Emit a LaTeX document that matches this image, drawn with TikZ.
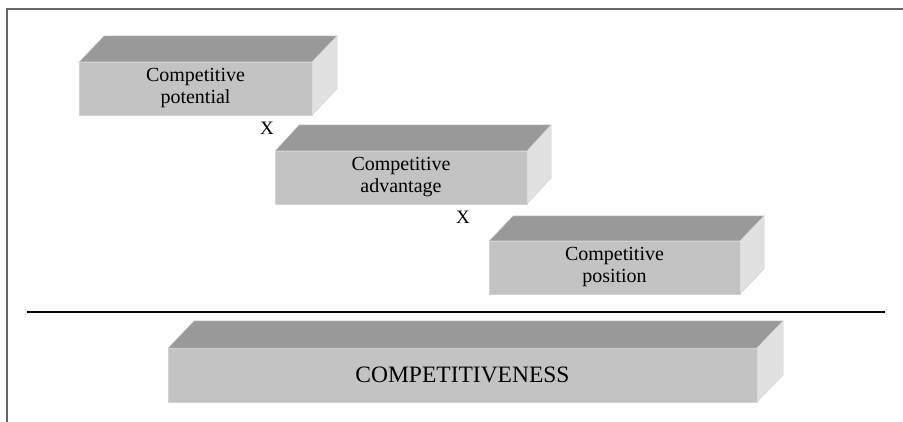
\documentclass[tikz,border=0pt]{standalone}
\usepackage{fontspec}
\setmainfont{Liberation Serif}
\definecolor{topgray}{HTML}{999999}
\definecolor{frontgray}{HTML}{C3C3C3}
\definecolor{sidegray}{HTML}{E1E1E1}
\definecolor{edgegray}{HTML}{D2D2D2}
\definecolor{framegray}{HTML}{666666}
\tikzset{
  frontface/.style={fill=frontgray, draw=edgegray, line width=0.8pt, inner sep=0pt, outer sep=0pt, align=center, minimum height=53pt},
  topface/.style={fill=topgray, draw=edgegray, line width=0.5pt},
  sideface/.style={fill=sidegray, draw=edgegray, line width=0.5pt},
  boxtext/.style={font=\fontsize{20}{22}\selectfont},
  bigtext/.style={font=\fontsize{23.5}{26}\selectfont},
  timeslabel/.style={fill=white, inner sep=1.5pt, font=\fontsize{19}{21}\selectfont},
  frameline/.style={draw=framegray, line width=1.6pt},
  sepline/.style={draw=black, line width=2pt}
}
% #1 name, #2 center, #3 width, #4 depth shift, #5 style, #6 text
\newcommand\slabbox[6]{%
  \node[frontface, #5, minimum width=#3] (#1) at (#2) {#6};
  \path[topface] (#1.north west) -- (#1.north east) -- ([shift={(#4)}]#1.north east) -- ([shift={(#4)}]#1.north west) -- cycle;
  \path[sideface] (#1.north east) -- ([shift={(#4)}]#1.north east) -- ([shift={(#4)}]#1.south east) -- (#1.south east) -- cycle;
}
\begin{document}
\begin{tikzpicture}[x=1pt, y=-1pt]
  \useasboundingbox (0,0) rectangle (903,422);
  \fill[white] (0,0) rectangle (903,422);
  % frame
  \coordinate (ftl) at (7,9);
  \coordinate (ftr) at (903,9);
  \coordinate (fbl) at (7,422);
  \draw[frameline] (ftr) -- (ftl) -- (fbl);
  % boxes
  \slabbox{pot}{195.5,88.5}{233pt}{25,-26}{boxtext}{Competitive\\potential}
  \slabbox{adv}{401,177.5}{252pt}{24,-26}{boxtext}{Competitive\\advantage}
  \slabbox{pos}{614.5,267.5}{251pt}{24,-25}{boxtext}{Competitive\\position}
  % separator
  \coordinate (sl) at (27,312);
  \coordinate (sr) at (885,312);
  \draw[sepline] (sl) -- (sr);
  \slabbox{comp}{462.5,375}{589pt}{26,-27}{bigtext, minimum height=54pt}{COMPETITIVENESS}
  % multiplication labels
  \node[timeslabel] (x1) at (267,128) {X};
  \node[timeslabel] (x2) at (463,217) {X};
\end{tikzpicture}
\end{document}
